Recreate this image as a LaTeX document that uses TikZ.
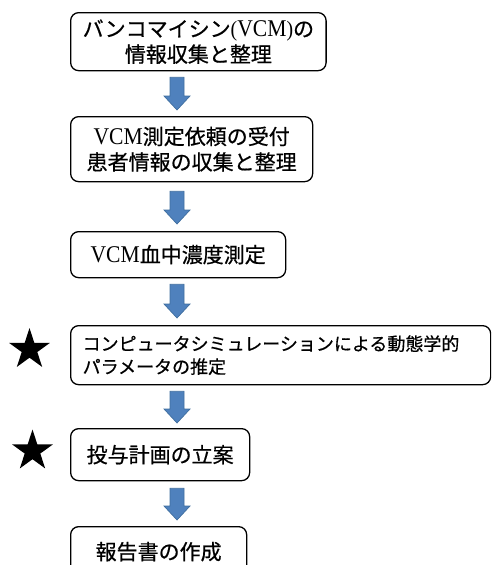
\documentclass[tikz,border=0pt]{standalone}
\usepackage{fontspec}
\usetikzlibrary{calc,shapes.geometric}
\newfontfamily\jpfont[FakeBold=0.6]{Noto Sans CJK JP}
\newfontfamily\vcmfont[FakeStretch=0.9]{Liberation Serif}
\newcommand{\VCM}{{\vcmfont\fontsize{24}{25}\selectfont VCM}}
\definecolor{arrowfill}{HTML}{4F81BD}
\definecolor{arrowline}{HTML}{3F6E9F}
\tikzset{
  stepbox/.style={draw=black, line width=1.3pt, rounded corners=8pt, anchor=north west,
    inner xsep=12pt, inner ysep=4pt, align=center,
    font={\jpfont\fontsize{21}{25.5}\selectfont}},
  blockarr/.style={fill=arrowfill, draw=arrowline, line width=0.7pt,
    to path={let \p1=(\tikztostart), \p2=(\tikztotarget) in
      (\x1-7pt,\y1) -- (\x1+7pt,\y1) -- (\x1+7pt,\y2+14pt) -- (\x1+13pt,\y2+14pt)
      -- (\x1,\y2) -- (\x1-13pt,\y2+14pt) -- (\x1-7pt,\y2+14pt) -- cycle}},
  starmark/.style={star, star points=5, star point ratio=2.618, fill=black,
    minimum size=43pt, inner sep=0pt}
}
\begin{document}
\begin{tikzpicture}[x=1pt,y=-1pt]
\useasboundingbox (0,0) rectangle (491,565);
\clip (0,0) rectangle (491,565);
\coordinate (ax) at (177,0);
\node[stepbox, minimum width=255pt, minimum height=58pt] (b1) at (70,12)
  {バンコマイシン{\vcmfont\fontsize{22}{25}\selectfont(}\VCM{\vcmfont\fontsize{22}{25}\selectfont)}の\\情報収集と整理};
\node[stepbox, minimum width=242pt, minimum height=65pt] (b2) at (70,116)
  {\VCM 測定依頼の受付\\患者情報の収集と整理};
\node[stepbox, minimum width=215pt, minimum height=46pt] (b3) at (70,231)
  {\VCM 血中濃度測定};
\node[stepbox, minimum width=420pt, minimum height=59pt, text width=396pt, align=left,
  font={\jpfont\fontsize{18}{23}\selectfont}] (b4) at (70,325)
  {コンピュータシミュレーションによる動態学的\\パラメータの推定};
\node[stepbox, minimum width=179pt, minimum height=52pt] (b5) at (70,428)
  {投与計画の立案};
\node[stepbox, minimum width=176pt, minimum height=50pt] (b6) at (70,526)
  {報告書の作成};
\node[starmark] (s1) at (29.5,349.5) {};
\node[starmark] (s2) at (32.5,451) {};
\path[blockarr] ($(b1.south -| ax)+(0,6)$) to ($(b2.north -| ax)+(0,-6)$);
\path[blockarr] ($(b2.south -| ax)+(0,9)$) to ($(b3.north -| ax)+(0,-7)$);
\path[blockarr] ($(b3.south -| ax)+(0,6)$) to ($(b4.north -| ax)+(0,-7)$);
\path[blockarr] ($(b4.south -| ax)+(0,6)$) to ($(b5.north -| ax)+(0,-5)$);
\path[blockarr] ($(b5.south -| ax)+(0,7)$) to ($(b6.north -| ax)+(0,-6)$);
\end{tikzpicture}
\end{document}
